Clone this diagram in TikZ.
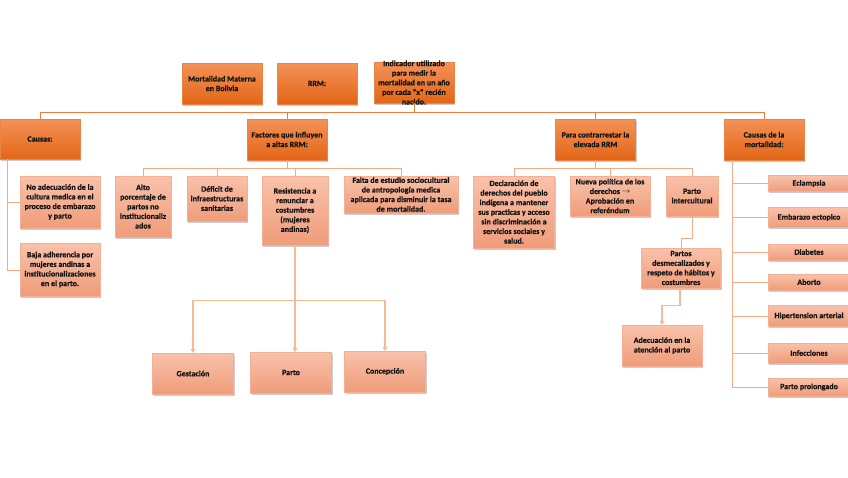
\documentclass[tikz,border=0pt]{standalone}
\usepackage{fontspec}
\setmainfont{Carlito}[FakeBold=0.6]
\newfontfamily\boxfont{Carlito}[FakeBold=0.6]
\usetikzlibrary{arrows.meta,shadows}

\definecolor{maintop}{RGB}{244,146,88}
\definecolor{mainbot}{RGB}{226,102,22}
\definecolor{subtop}{RGB}{249,194,170}
\definecolor{subbot}{RGB}{239,156,122}
\definecolor{linkmain}{RGB}{236,125,60}
\definecolor{linksub}{RGB}{243,170,135}
\definecolor{linkarrow}{RGB}{247,185,150}
\definecolor{ink}{RGB}{20,20,20}

\begin{document}
\begin{tikzpicture}[
  x=1pt, y=-1pt,
  every node/.style={font=\boxfont\bfseries\fontsize{8}{9.6}\selectfont, text=ink},
  mainbox/.style={draw=mainbot!80, line width=0.3pt, top color=maintop, bottom color=mainbot,
                  align=center, inner sep=1pt, minimum width=80pt, minimum height=41pt,
                  drop shadow={shadow xshift=1pt, shadow yshift=-1.5pt, opacity=0.4}},
  subbox/.style={draw=subbot!80, line width=0.3pt, top color=subtop, bottom color=subbot,
                 align=center, inner sep=1pt, minimum width=80pt, minimum height=40pt,
                 drop shadow={shadow xshift=1pt, shadow yshift=-1.5pt, opacity=0.4}},
  boxtext/.style={align=center, inner sep=0pt},
  link/.style={draw=linkmain, line width=1pt},
  sublink/.style={draw=linksub, line width=1pt},
  arrow/.style={draw=linkarrow, line width=1.1pt, -{Triangle[width=5pt,length=4pt]}}
]
  \useasboundingbox (0,0) rectangle (848,477);

  % top row
  \node[mainbox] (mort) at (222,83.5) {Mortalidad Materna\\en Bolivia};
  \node[mainbox] (rrm) at (317,83.5) {RRM:};
  \node[mainbox] (indic) at (414,82.5) {};
  \node[boxtext] (indictext) at (indic) {Indicador utilizado\\para medir la\\mortalidad en un año\\por cada “x” recién\\nacido.};

  % second row
  \node[mainbox, minimum height=40pt] (causas) at (40,139) {Causas:};
  \node[mainbox] (factores) at (287,139.5) {Factores que influyen\\a altas RRM:};
  \node[mainbox] (para) at (595.5,139.5) {Para contrarrestar la\\elevada RRM};
  \node[mainbox] (causasm) at (764,139.5) {Causas de la\\mortalidad:};

  % causas
  \node[subbox, minimum height=52pt] (noadec) at (60,202) {No adecuación de la\\cultura medica en el\\proceso de embarazo\\y parto};
  \node[subbox, minimum height=53pt] (baja) at (60,269.5) {Baja adherencia por\\mujeres andinas a\\institucionalizaciones\\en el parto.};

  % factores
  \node[subbox, minimum width=56pt, minimum height=61pt] (alto) at (143,206.5) {Alto\\porcentaje de\\partos no\\institucionaliz\\ados};
  \node[subbox, minimum width=60pt, minimum height=45pt] (deficit) at (217,198.5) {Déficit de\\infraestructuras\\sanitarias};
  \node[subbox, minimum width=66pt, minimum height=69pt] (resist) at (295,210.5) {Resistencia a\\renunciar a\\costumbres\\(mujeres\\andinas)};
  \node[subbox, minimum width=114pt, minimum height=37pt] (falta) at (401,194.5) {Falta de estudio sociocultural\\de antropología medica\\aplicada para disminuir la tasa\\de mortalidad.};

  \node[subbox, minimum width=81pt, minimum height=41pt] (gest) at (193,373.5) {Gestación};
  \node[subbox, minimum width=81pt, minimum height=41pt] (parto) at (291,372.5) {Parto};
  \node[subbox, minimum width=81pt, minimum height=41pt] (concep) at (385,371.5) {Concepción};

  % para contrarrestar
  \node[subbox, minimum width=81pt, minimum height=72pt] (decl) at (514,212) {Declaración de\\derechos del pueblo\\indígena a mantener\\sus practicas y acceso\\sin discriminación a\\servicios sociales y\\salud.};
  \node[subbox] (nueva) at (610,196) {Nueva política de los\\derechos $\rightarrow$\\Aprobación en\\referéndum};
  \node[subbox, minimum width=52pt] (pinter) at (692,196) {Parto\\intercultural};
  \node[subbox, minimum width=79pt] (partos) at (681,268) {Partos\\desmecalizados y\\respeto de hábitos y\\costumbres};
  \node[subbox, minimum height=41pt] (adec) at (662,345.5) {Adecuación en la\\atención al parto};

  % causas de la mortalidad
  \node[subbox, minimum width=82pt, minimum height=16pt] (eclam) at (809,183.5) {Eclampsia};
  \node[subbox, minimum width=82pt, minimum height=20pt] (ectop) at (809,217.5) {Embarazo ectopico};
  \node[subbox, minimum width=82pt, minimum height=16pt] (diab) at (809,252) {Diabetes};
  \node[subbox, minimum width=82pt, minimum height=16pt] (abort) at (809,282) {Aborto};
  \node[subbox, minimum width=82pt, minimum height=21pt] (hiper) at (809,316) {Hipertension arterial};
  \node[subbox, minimum width=82pt, minimum height=20pt] (infec) at (809,353) {Infecciones};
  \node[subbox, minimum width=82pt, minimum height=18pt] (prolo) at (809,387) {Parto prolongado};

  % connectors
  \draw[link] (indic.south) -- ++(0,9.5) coordinate (hub);
  \draw[link] (hub) -| (causas.north);
  \draw[link] (hub) -| (factores.north);
  \draw[link] (hub) -| (para.north);
  \draw[link] (hub) -| (causasm.north);

  \coordinate (cspine) at ([xshift=8pt]causas.south west);
  \draw[sublink] (cspine) |- (noadec.west);
  \draw[sublink] (cspine) |- ([yshift=-0.5pt]baja.west);

  \draw[sublink] (factores.south) -- ++(0,8) coordinate (fhub);
  \draw[sublink] (fhub) -| (alto.north);
  \draw[sublink] (fhub) -| (deficit.north);
  \draw[sublink] (fhub) -| (resist.north);
  \draw[sublink] (fhub) -| (falta.north);

  \draw[arrow] (resist.south) -- ++(0,55) coordinate (rhub) -- (rhub |- parto.north);
  \draw[arrow] (rhub) -| (gest.north);
  \draw[arrow] (rhub) -| (concep.north);

  \draw[sublink] (para.south) -- ++(0,8) coordinate (phub);
  \draw[sublink] (phub) -| (decl.north);
  \draw[sublink] (phub) -| (nueva.north);
  \draw[sublink] (phub) -| (pinter.north);
  \draw[sublink] (pinter.south) -- ++(0,22) -| (partos.north);
  \draw[arrow] ([xshift=-1pt]partos.south) -- ++(0,17) -| (adec.north);

  \coordinate (mspine) at ([xshift=9pt]causasm.south west);
  \foreach \n in {eclam,ectop,diab,abort,hiper,infec,prolo}
    \draw[sublink] (mspine) |- (\n.west);
\end{tikzpicture}
\end{document}
